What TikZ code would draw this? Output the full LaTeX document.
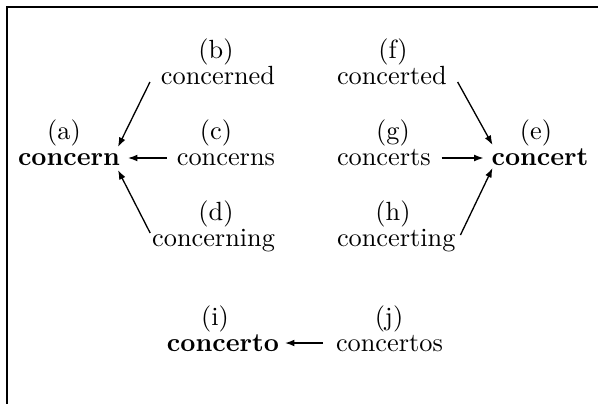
\documentclass[tikz,border=0pt]{standalone}
\usetikzlibrary{arrows.meta}
\begin{document}
\begin{tikzpicture}[x=0.3802pt,y=-0.3802pt,
  word/.style={inner sep=0pt,outer sep=0pt,font=\fontsize{10}{12}\selectfont},
  root/.style={word,font=\fontsize{10}{12}\selectfont\bfseries},
  lbl/.style={inner sep=0pt,outer sep=0pt,anchor=base,font=\fontsize{10}{12}\selectfont},
  arr/.style={line width=0.5pt,-{Latex[length=3.6pt,width=2.6pt]}},
  frame/.style={line width=0.8pt}]
\useasboundingbox (0,0) rectangle (598,403);
% frame
\coordinate (fbl) at (7,404);
\coordinate (ftl) at (7,7);
\coordinate (ftr) at (599,7);
\draw[frame] (fbl) -- (ftl) -- (ftr);
% roots
\node[root,anchor=base] (a) at (69,165) {concern};
\node[root,anchor=base] (e) at (540,165) {concert};
\node[root,anchor=base] (i) at (223,351) {concerto};
% variants
\node[word,anchor=base east] (b) at (275,84) {concerned};
\node[word,anchor=base east] (c) at (275,165) {concerns};
\node[word,anchor=base east] (d) at (275,246) {concerning};
\node[word,anchor=base west] (f) at (337,84) {concerted};
\node[word,anchor=base west] (g) at (337,165) {concerts};
\node[word,anchor=base west] (h) at (337,246) {concerting};
\node[word,anchor=base west] (j) at (336,351) {concertos};
% labels
\node[lbl] (la) at (64,139) {(a)};
\node[lbl] (lb) at (216,58) {(b)};
\node[lbl] (lc) at (216,139) {(c)};
\node[lbl] (ld) at (216,220) {(d)};
\node[lbl] (le) at (536,139) {(e)};
\node[lbl] (lf) at (393,58) {(f)};
\node[lbl] (lg) at (393,139) {(g)};
\node[lbl] (lh) at (393,220) {(h)};
\node[lbl] (li) at (215,325) {(i)};
\node[lbl] (lj) at (389,325) {(j)};
% arrows
\draw[arr] ([shift={(-11,-2)}]b.base west) -- ([shift={(-2,-18)}]a.base east);
\draw[arr] ([shift={(-10,-7)}]c.base west) -- ([shift={(8,-7)}]a.base east);
\draw[arr] ([shift={(-2,-13)}]d.base west) -- ([shift={(-2,5)}]a.base east);
\draw[arr] ([shift={(11,-2)}]f.base east) -- ([shift={(1,-20)}]e.base west);
\draw[arr] ([shift={(11,-7)}]g.base east) -- ([shift={(-8,-7)}]e.base west);
\draw[arr] ([shift={(5,-11)}]h.base east) -- ([shift={(1,3)}]e.base west);
\draw[arr] ([shift={(-13,-8)}]j.base west) -- ([shift={(6,-8)}]i.base east);
\end{tikzpicture}
\end{document}
